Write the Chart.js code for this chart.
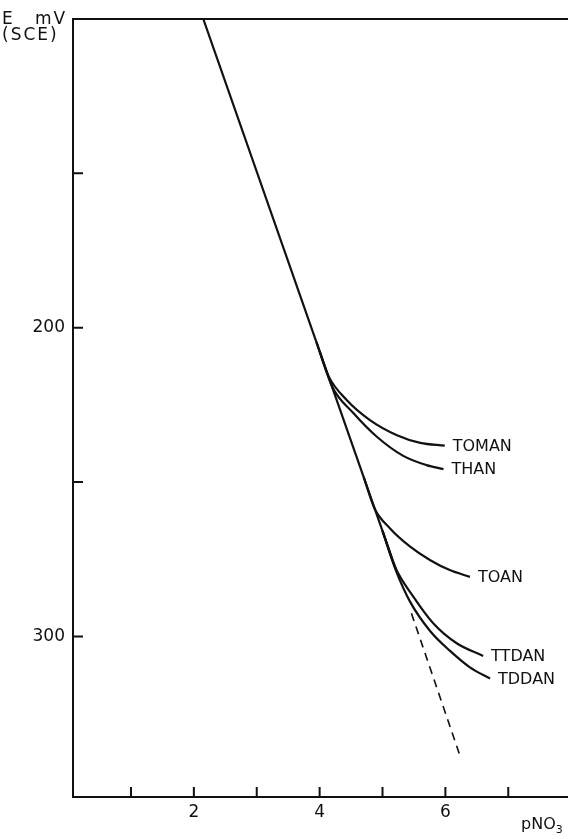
<!DOCTYPE html>
<html>
<head>
<meta charset="utf-8">
<script src="https://cdn.jsdelivr.net/npm/chart.js@4"></script>
<style>
  html, body { margin: 0; padding: 0; background: #fff; }
  #wrap { position: relative; width: 568px; height: 839px; }
</style>
</head>
<body>
<div id="wrap"><canvas id="chart"></canvas></div>
<script>
// E (mV vs SCE) against pNO3 for the ammonium nitrate electrodes
const mainX = [2.15, 5.21];
const mainE = [100, 278];
const dashX = [5.46, 6.23];
const dashE = [292.5, 338.5];

// each curve starts a little back on the common straight line
const tomanX = [3.95, 4.14, 4.43, 4.80, 5.23, 5.60, 5.99];
const tomanE = [204.7, 215.6, 223.4, 229.9, 234.8, 237.3, 238.2];
const thanX = [4.00, 4.20, 4.54, 4.91, 5.33, 5.70, 5.97];
const thanE = [207.6, 219.1, 227.7, 235.3, 241.5, 244.5, 245.8];
const toanX = [4.70, 4.88, 5.12, 5.44, 5.76, 6.07, 6.39];
const toanE = [248.3, 258.8, 265.0, 270.9, 275.3, 278.5, 280.7];
const ttdanX = [5.00, 5.20, 5.49, 5.81, 6.18, 6.60];
const ttdanE = [265.8, 277.5, 287.1, 295.8, 302.2, 306.3];
const tddanX = [5.00, 5.22, 5.44, 5.76, 6.07, 6.39, 6.71];
const tddanE = [265.8, 279.0, 288.8, 298.3, 304.6, 310.0, 313.6];

const xTicks = [1, 2, 3, 4, 5, 6, 7];
const xTickLabels = [2, 4, 6];
const yTicks = [150, 200, 250, 300];
const yTickLabels = [200, 300];

const INK = '#111';
const FONT = 'DejaVu Sans';

const pts = (xs, ys) => xs.map((x, i) => ({ x: x, y: ys[i] }));

const curve = (label, xs, ys) => ({
    endLabel: label,
    data: pts(xs, ys),
    borderColor: INK,
    borderWidth: 2.2,
    pointRadius: 0,
    cubicInterpolationMode: 'monotone',
    fill: false
});

// inward tick marks, top frame line, curve names and axis titles
const decor = {
    id: 'decor',
    afterDatasetsDraw(chart) {
        const { ctx, chartArea: a, scales } = chart;
        ctx.save();
        ctx.strokeStyle = INK;
        ctx.lineWidth = 2;
        ctx.beginPath();
        ctx.moveTo(a.left - 1, a.top);
        ctx.lineTo(a.right, a.top);
        xTicks.forEach(v => {
            const px = scales.x.getPixelForValue(v);
            ctx.moveTo(px, a.bottom);
            ctx.lineTo(px, a.bottom - 10);
        });
        yTicks.forEach(v => {
            const py = scales.y.getPixelForValue(v);
            ctx.moveTo(a.left, py);
            ctx.lineTo(a.left + 10, py);
        });
        ctx.stroke();

        ctx.fillStyle = INK;
        ctx.font = '16px "' + FONT + '"';
        ctx.textBaseline = 'middle';
        ctx.textAlign = 'left';
        chart.data.datasets.forEach(ds => {
            if (!ds.endLabel) return;
            const last = ds.data[ds.data.length - 1];
            const px = scales.x.getPixelForValue(last.x);
            const py = scales.y.getPixelForValue(last.y);
            ctx.fillText(ds.endLabel, px + 8, py + 1);
        });

        // y axis title
        ctx.font = '17px "' + FONT + '"';
        ctx.letterSpacing = '2px';
        ctx.fillText('E', 2, 20);
        ctx.fillText('mV', 35, 20);
        ctx.fillText('(SCE)', 2, 36);
        ctx.letterSpacing = '0px';

        // x axis title
        ctx.font = '16px "' + FONT + '"';
        ctx.fillText('pNO', 521, 825);
        const w = ctx.measureText('pNO').width;
        ctx.font = '11px "' + FONT + '"';
        ctx.fillText('3', 521 + w, 830);
        ctx.restore();
    }
};

new Chart(document.getElementById('chart'), {
    type: 'line',
    data: {
        datasets: [
            { data: pts(mainX, mainE), borderColor: INK, borderWidth: 2.2, pointRadius: 0, fill: false },
            { data: pts(dashX, dashE), borderColor: INK, borderWidth: 1.6, borderDash: [8, 6], pointRadius: 0, fill: false },
            curve('TOMAN', tomanX, tomanE),
            curve('THAN', thanX, thanE),
            curve('TOAN', toanX, toanE),
            curve('TTDAN', ttdanX, ttdanE),
            curve('TDDAN', tddanX, tddanE)
        ]
    },
    options: {
        responsive: true,
        maintainAspectRatio: false,
        animation: false,
        layout: { padding: { top: 19, right: 0, left: 0, bottom: 0 } },
        plugins: {
            legend: { display: false },
            tooltip: { enabled: false }
        },
        scales: {
            x: {
                type: 'linear',
                min: 0.078,
                max: 7.95,
                afterBuildTicks: s => { s.ticks = xTicks.map(v => ({ value: v })); },
                afterFit: s => { s.height = 42; },
                ticks: {
                    autoSkip: false,
                    maxRotation: 0,
                    color: INK,
                    padding: 5,
                    font: { family: FONT, size: 17 },
                    callback: v => xTickLabels.includes(v) ? String(v) : ''
                },
                grid: { display: false, drawTicks: false },
                border: { display: true, color: INK, width: 2 }
            },
            y: {
                type: 'linear',
                reverse: true,
                min: 100,
                max: 352,
                afterBuildTicks: s => { s.ticks = yTicks.map(v => ({ value: v })); },
                afterFit: s => { s.width = 73; },
                ticks: {
                    autoSkip: false,
                    color: INK,
                    padding: 8,
                    font: { family: FONT, size: 17 },
                    callback: v => yTickLabels.includes(v) ? String(v) : ''
                },
                grid: { display: false, drawTicks: false },
                border: { display: true, color: INK, width: 2 }
            }
        }
    },
    plugins: [decor]
});
</script>
</body>
</html>
